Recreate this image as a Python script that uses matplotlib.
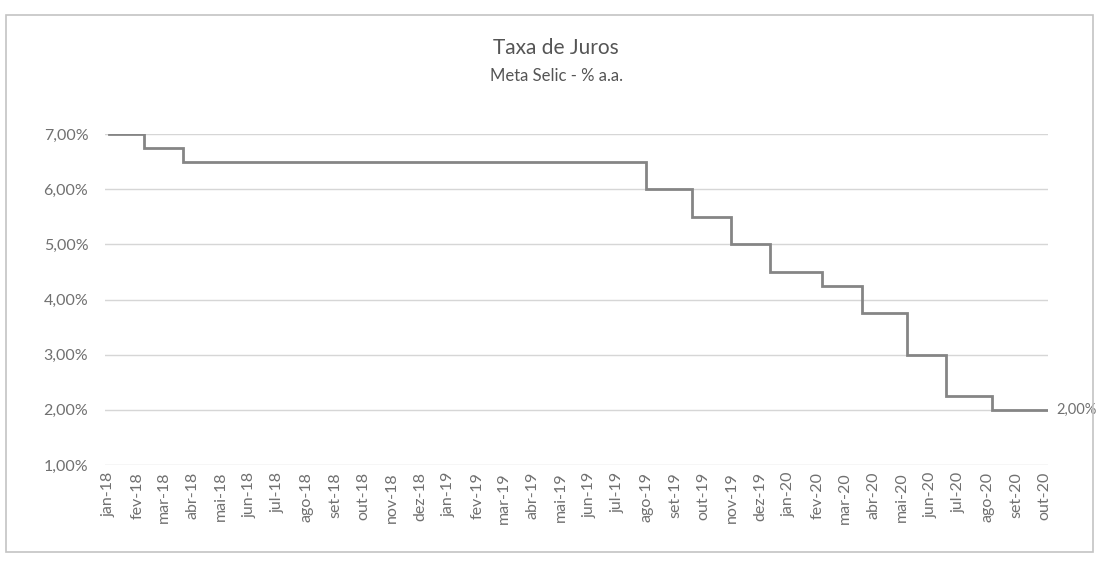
import matplotlib
matplotlib.use('Agg')
import matplotlib.pyplot as plt
from matplotlib.patches import Rectangle
from matplotlib.ticker import FuncFormatter
import pandas as pd

# Meta Selic: datas de mudança e taxa vigente (% a.a.)
change_dates = ['2018-01-01', '2018-02-08', '2018-03-22', '2019-08-01', '2019-09-19',
                '2019-10-31', '2019-12-12', '2020-02-06', '2020-03-19', '2020-05-07',
                '2020-06-18', '2020-08-06']
selic = [7.00, 6.75, 6.50, 6.00, 5.50, 5.00, 4.50, 4.25, 3.75, 3.00, 2.25, 2.00]
last_date = '2020-10-05'

months_pt = ['jan', 'fev', 'mar', 'abr', 'mai', 'jun', 'jul', 'ago', 'set', 'out', 'nov', 'dez']
tick_months = pd.date_range('2018-01-01', '2020-10-01', freq='MS')
y_ticks = [1, 2, 3, 4, 5, 6, 7]

plt.rcParams['font.family'] = ['Lato', 'DejaVu Sans']
text_color = '#707070'

fig = plt.figure(figsize=(10.96, 5.62), dpi=100)
W, H = 1096, 562
ax = fig.add_axes([105 / W, 1 - 465 / H, (1048 - 105) / W, (465 - 134) / H])

x = pd.to_datetime(change_dates + [last_date])
y = selic + [selic[-1]]
ax.step(x, y, where='post', color='#858585', lw=2.0, solid_joinstyle='miter')

# rótulo do último valor
ax.annotate(f"{selic[-1]:.2f}%".replace('.', ','), xy=(x[-1], y[-1]),
            xytext=(6, 0), textcoords='offset points', va='center', ha='left',
            fontsize=10.5, color=text_color, annotation_clip=False)

ax.set_xlim(pd.Timestamp('2017-12-28'), pd.Timestamp(last_date))
ax.set_ylim(1, 7)
ax.set_yticks(y_ticks)
ax.yaxis.set_major_formatter(FuncFormatter(lambda v, p: f"{v:.2f}%".replace('.', ',')))
ax.set_xticks(tick_months)
ax.set_xticklabels([f"{months_pt[d.month - 1]}-{d.year % 100:02d}" for d in tick_months],
                   rotation=90)
ax.tick_params(axis='both', length=0, colors=text_color, labelsize=11.5)
ax.tick_params(axis='y', pad=12)
ax.tick_params(axis='x', pad=5)
ax.grid(axis='y', color='#d6d6d6', lw=1)
ax.set_axisbelow(True)
for s in ax.spines.values():
    s.set_visible(False)

fig.text(556 / W, 1 - 48 / H, 'Taxa de Juros', ha='center', va='center',
         fontsize=15, color='#555555')
fig.text(556 / W, 1 - 76 / H, 'Meta Selic - % a.a.', ha='center', va='center',
         fontsize=12, color='#555555')

# moldura do gráfico
fig.patches.append(Rectangle((6 / W, 1 - 552 / H), (1093 - 6) / W, (552 - 15) / H,
                             transform=fig.transFigure, fill=False,
                             edgecolor='#c4c4c4', lw=1.2))

fig.savefig('out.png', dpi=100)
